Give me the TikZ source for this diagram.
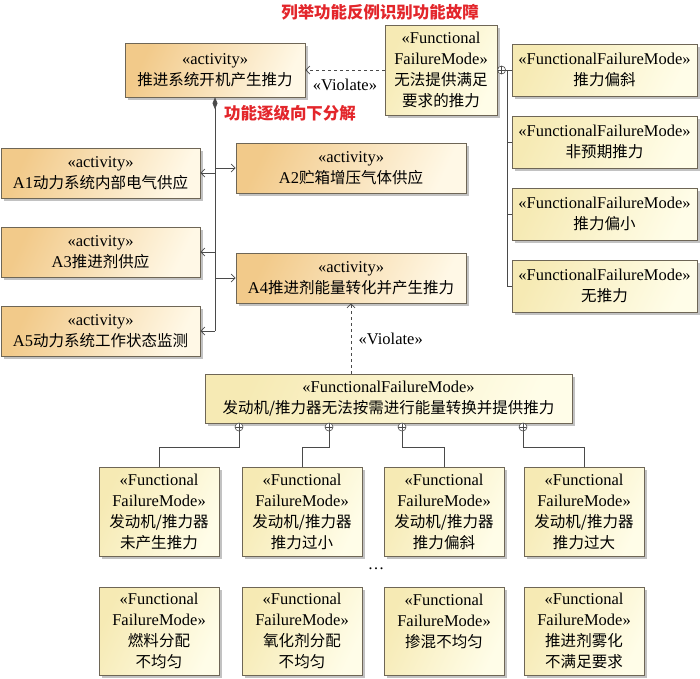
\documentclass[tikz,border=0pt]{standalone}
\usepackage{fontspec}
\setmainfont{Liberation Serif}
\newfontfamily\cjk[Scale=0.94]{Noto Sans CJK SC}
\usetikzlibrary{arrows.meta,shadows}
\newcommand{\zh}[1]{{\cjk #1}}
\definecolor{actL}{HTML}{F2CA8A}
\definecolor{actR}{HTML}{FFF8E6}
\definecolor{ffL}{HTML}{F6EAB4}
\definecolor{ffR}{HTML}{FFFDE8}
\definecolor{boxline}{HTML}{6E6656}
\definecolor{lineC}{HTML}{4A4A4A}
\definecolor{redT}{HTML}{E3262B}
\tikzset{
  box/.style={draw=boxline, line width=0.6pt, inner sep=1pt, align=center,
    font=\fontsize{16.5}{21}\selectfont,
    drop shadow={shadow xshift=2.5pt, shadow yshift=-2.5pt, fill=black!40, opacity=0.6}},
  actbox/.style={box, left color=actL, right color=actR, shading angle=65},
  ffbox/.style={box, left color=ffL, right color=ffR, shading angle=65},
  link/.style={draw=lineC, line width=0.7pt},
  sub/.style={link, -{Straight Barb[length=4pt,width=8pt]}},
  violate/.style={link, dashed, -{Straight Barb[length=4pt,width=8pt]}},
  oplus/.style={circle, draw=lineC, line width=0.6pt, fill=white, inner sep=0pt, minimum size=8pt,
    path picture={\draw[lineC, line width=0.5pt] (path picture bounding box.north) -- (path picture bounding box.south)
      (path picture bounding box.west) -- (path picture bounding box.east);}},
  redlabel/.style={text=redT, font=\fontsize{17.5}{21}\selectfont\bfseries},
  plain/.style={font=\fontsize{16.5}{21}\selectfont}
}
\begin{document}
\begin{tikzpicture}[x=1pt,y=-1pt]
\useasboundingbox (0,0) rectangle (700,678);
\node[redlabel] (title) at (380,12) {\zh{列举功能反例识别功能故障}};
\node[actbox, minimum width=180pt, minimum height=54pt] (top) at (215,70) {«activity»\\\zh{推进系统开机产生推力}};
\node[ffbox, minimum width=112pt, minimum height=90pt] (fftop) at (441,70) {«Functional\\FailureMode»\\\zh{无法提供满足}\\\zh{要求的推力}};
\foreach \t [count=\i] in {推力偏斜,非预期推力,推力偏小,无推力}
    \node[ffbox, minimum width=185pt, minimum height=52pt] (r\i) at (604.5,{70+72*(\i-1)}) {«FunctionalFailureMode»\\\zh{\t}};
\node[redlabel] (decomp) at (290,113) {\zh{功能逐级向下分解}};
\node[actbox, minimum width=199pt, minimum height=50pt] (a1) at (100.5,173) {«activity»\\A1\zh{动力系统内部电气供应}};
\node[actbox, minimum width=230pt, minimum height=50pt] (a2) at (351,168) {«activity»\\A2\zh{贮箱增压气体供应}};
\node[actbox, minimum width=199pt, minimum height=50pt] (a3) at (100.5,252) {«activity»\\A3\zh{推进剂供应}};
\node[actbox, minimum width=230pt, minimum height=50pt] (a4) at (351,278) {«activity»\\A4\zh{推进剂能量转化并产生推力}};
\node[actbox, minimum width=199pt, minimum height=50pt] (a5) at (100.5,331) {«activity»\\A5\zh{动力系统工作状态监测}};
\node[ffbox, minimum width=367pt, minimum height=49pt] (ffm) at (388.5,398.5) {«FunctionalFailureMode»\\\zh{发动机/推力器无法按需进行能量转换并提供推力}};
\foreach \x/\t [count=\i] in {159/未产生推力,302/推力过小,444/推力偏斜,584/推力过大}
    \node[ffbox, minimum width=120pt, minimum height=89pt] (b\i) at (\x,511.5) {«Functional\\FailureMode»\\\zh{发动机/推力器}\\\zh{\t}};
\node[plain] (dots) at (376,569) {…};
\foreach \x/\s/\u [count=\i] in {159/燃料分配/不均匀,302/氧化剂分配/不均匀,444/掺混不均匀/\mbox{},584/推进剂雾化/不满足要求}
    \node[ffbox, minimum width=120pt, minimum height=88pt] (c\i) at (\x,631) {«Functional\\FailureMode»\\\zh{\s}\\\zh{\u}};

\draw[violate] (fftop.west) -- (top.east) node[midway, below=5pt, plain] {«Violate»};
\node[oplus, anchor=west] (q) at (fftop.east) {};
\coordinate (rt) at (507,70);
\draw[link] (q.east) -- (rt) -- (rt |- r4.west);
\foreach \i in {1,...,4}
    \draw[link] (rt |- r\i.west) -- (r\i.west);

\draw[link, {Diamond[length=12pt,width=5pt]}-] (top.south) -- (top.south |- a5.east);
\foreach \n in {a1,a3,a5}
    \draw[sub] (top.south |- \n.east) -- (\n.east);
\foreach \n in {a2,a4}
    \draw[sub] (top.south |- \n.west) -- (\n.west);

\draw[violate] (a4.south |- ffm.north) -- (a4.south) node[midway, right=4pt, plain] {«Violate»};
\coordinate (elb) at (0,447);
\foreach \x [count=\i] in {239,329,402,523} {
    \node[oplus] (p\i) at (\x,427) {};
    \draw[link] (p\i.south) -- (p\i.south |- elb) -| (b\i.north);
}
\end{tikzpicture}
\end{document}
